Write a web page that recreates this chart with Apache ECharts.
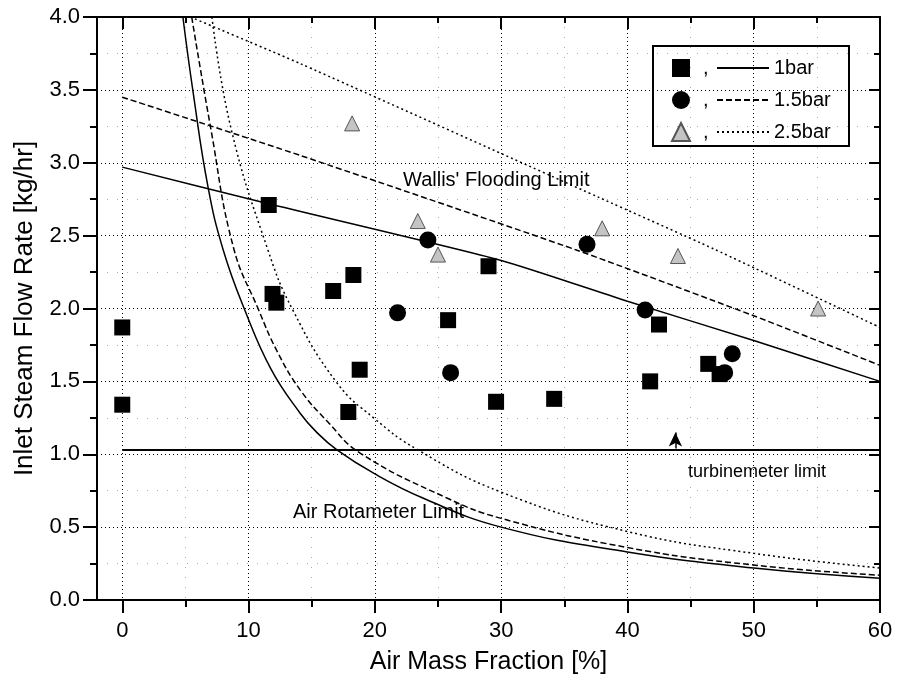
<!DOCTYPE html>
<html><head><meta charset="utf-8">
<script src="https://cdn.jsdelivr.net/npm/echarts@6/dist/echarts.min.js"></script>
<style>html,body{margin:0;padding:0;background:#fff}#c{width:898px;height:681px}</style>
</head><body><div id="c"></div>
<script>
// ---- data ----
const xTickValues = [0, 10, 20, 30, 40, 50, 60];
const pressureNames = ['1bar', '1.5bar', '2.5bar'];

const squares1bar = [[0, 1.87], [0, 1.34], [11.6, 2.71], [11.9, 2.10], [12.2, 2.04], [16.7, 2.12], [18.3, 2.23],
  [18.8, 1.58], [17.9, 1.29], [25.8, 1.92], [29.0, 2.29], [29.6, 1.36], [34.2, 1.38], [41.8, 1.50],
  [42.5, 1.89], [46.4, 1.62], [47.3, 1.55]];
const circles15bar = [[21.8, 1.97], [24.2, 2.47], [26.0, 1.56], [36.8, 2.44], [41.4, 1.99], [47.7, 1.56], [48.3, 1.69]];
const triangles25bar = [[18.2, 3.27], [23.4, 2.60], [25.0, 2.37], [38.0, 2.55], [44.0, 2.36], [55.1, 2.00]];

const flooding1bar = [[0, 2.97], [11.5, 2.72], [30, 2.33], [40, 2.05], [50, 1.78], [60, 1.50]];
const flooding15bar = [[0, 3.45], [14.1, 3.05], [36, 2.40], [50, 1.95], [60, 1.61]];
const flooding25bar = [[5.4, 4.0], [14.1, 3.68], [37.8, 2.76], [46.8, 2.41], [60, 1.87]];

const rotameter1bar = [[4.8, 4.0], [5.6, 3.49], [6.8, 2.83], [8.0, 2.40], [9.7, 1.99], [11.8, 1.58], [14.1, 1.28],
  [15.4, 1.15], [17.0, 1.03], [19.9, 0.87], [23.8, 0.70], [30, 0.50], [40, 0.33], [50, 0.22], [60, 0.15]];
const rotameter15bar = [[5.5, 4.0], [7.0, 3.24], [8.8, 2.42], [10.8, 1.99], [12.3, 1.70], [14.1, 1.44], [16.3, 1.22],
  [18.8, 1.01], [25.7, 0.70], [30, 0.56], [40, 0.36], [50, 0.24], [60, 0.17]];
const rotameter25bar = [[7.1, 4.0], [8.6, 3.24], [11.5, 2.41], [13.5, 1.99], [17.0, 1.49], [19.9, 1.25], [23.4, 1.03],
  [30, 0.74], [40, 0.47], [50, 0.32], [60, 0.22]];

const turbinemeterLimit = [[0, 1.03], [60, 1.03]];
const arrowFrom = [43.8, 1.04];
const arrowTo = [43.8, 1.15];

const annotations = [
  { text: "Wallis' Flooding Limit", x: 403, y: 180, size: 20 },
  { text: 'turbinemeter limit', x: 688, y: 472, size: 18 },
  { text: 'Air Rotameter Limit', x: 293, y: 512, size: 20 }
];

// ---- chart ----
const FONT = '"Liberation Sans", Arial, Helvetica, sans-serif';
const chart = echarts.init(document.getElementById('c'), null, { renderer: 'canvas' });

const lineTypes = ['solid', [6, 3], [2, 3]];
function lineSeries(name, data, i, smooth) {
  return {
    type: 'line', name: name, data: data, symbol: 'circle', showSymbol: false, smooth: smooth,
    lineStyle: { color: '#000', width: 1.5, type: lineTypes[i] }, itemStyle: { color: '#000' },
    z: 3, silent: true, clip: true
  };
}

const axisCommonX = { type: 'value', min: -2, max: 60, splitNumber: 6 };
const axisCommonY = { type: 'value', min: 0, max: 4, interval: 0.5 };

const option = {
  backgroundColor: '#fff',
  animation: false,
  grid: { left: 97, right: 18, top: 17, bottom: 81, containLabel: false, outerBoundsMode: 'none' },
  xAxis: [
    Object.assign({}, axisCommonX, {
      position: 'bottom',
      name: 'Air Mass Fraction [%]', nameLocation: 'middle', nameGap: 50,
      nameTextStyle: { fontFamily: FONT, fontSize: 25, color: '#000' },
      axisLine: { onZero: false, lineStyle: { color: '#000', width: 2 } },
      axisTick: { inside: false, length: 13, lineStyle: { color: '#000', width: 2 }, customValues: xTickValues },
      minorTick: { show: true, splitNumber: 2, length: 7, lineStyle: { color: '#000', width: 2 } },
      axisLabel: { customValues: xTickValues, margin: 20, fontFamily: FONT, fontSize: 22, color: '#000' },
      splitLine: { show: true, lineStyle: { color: '#000', width: 1, type: [1, 3] } },
      minorSplitLine: { show: true, lineStyle: { color: '#aaa', width: 1, type: [1, 9] } }
    }),
    Object.assign({}, axisCommonX, {
      position: 'top',
      axisLine: { onZero: false, lineStyle: { color: '#000', width: 2 } },
      axisTick: { inside: true, length: 12, lineStyle: { color: '#000', width: 2 }, customValues: xTickValues },
      minorTick: { show: true, splitNumber: 2, length: 6, lineStyle: { color: '#000', width: 2 } },
      axisLabel: { show: false },
      splitLine: { show: false }
    })
  ],
  yAxis: [
    Object.assign({}, axisCommonY, {
      position: 'left',
      name: 'Inlet Steam Flow Rate [kg/hr]', nameLocation: 'middle', nameGap: 59, nameRotate: 90,
      nameTextStyle: { fontFamily: FONT, fontSize: 26, color: '#000' },
      axisLine: { onZero: false, lineStyle: { color: '#000', width: 2 } },
      axisTick: { inside: false, length: 14, lineStyle: { color: '#000', width: 2 } },
      minorTick: { show: true, splitNumber: 2, length: 7, lineStyle: { color: '#000', width: 2 } },
      axisLabel: { margin: 17, fontFamily: FONT, fontSize: 22, color: '#000', formatter: v => v.toFixed(1) },
      splitLine: { show: true, lineStyle: { color: '#000', width: 1, type: [1, 3] } },
      minorSplitLine: { show: true, lineStyle: { color: '#aaa', width: 1, type: [1, 9] } }
    }),
    Object.assign({}, axisCommonY, {
      position: 'right',
      axisLine: { onZero: false, lineStyle: { color: '#000', width: 2 } },
      axisTick: { inside: true, length: 11, lineStyle: { color: '#000', width: 2 } },
      minorTick: { show: true, splitNumber: 2, length: 6, lineStyle: { color: '#000', width: 2 } },
      axisLabel: { show: false },
      splitLine: { show: false }
    })
  ],
  legend: [
    {
      data: ['pts1bar', 'pts15bar', 'pts25bar'],
      orient: 'vertical', left: 671, top: 58, padding: 0,
      itemWidth: 18, itemHeight: 18, itemGap: 12,
      formatter: () => ',',
      textStyle: { fontFamily: FONT, fontSize: 20, color: '#000', lineHeight: 18, padding: [0, 0, 0, 8] },
      selectedMode: false
    },
    {
      data: pressureNames,
      orient: 'vertical', left: 716, top: 58, padding: 0,
      itemWidth: 52, itemHeight: 18, itemGap: 12,
      itemStyle: { opacity: 0 },
      textStyle: { fontFamily: FONT, fontSize: 20, color: '#000', lineHeight: 18 },
      selectedMode: false
    }
  ],
  graphic: [
    { type: 'rect', left: 652, top: 45, shape: { width: 196, height: 100 },
      style: { fill: 'rgba(255,255,255,0)', stroke: '#000', lineWidth: 2 }, z: 100, silent: true }
  ].concat(annotations.map(a => ({
    type: 'text', x: a.x, y: a.y, z: 100, silent: true,
    style: { text: a.text, fontFamily: FONT, fontSize: a.size, fill: '#000', verticalAlign: 'middle', align: 'left' }
  }))),
  series: [
    lineSeries('1bar', flooding1bar, 0, 0.2),
    lineSeries('1.5bar', flooding15bar, 1, 0.2),
    lineSeries('2.5bar', flooding25bar, 2, 0.2),
    lineSeries('1bar', rotameter1bar, 0, 0.45),
    lineSeries('1.5bar', rotameter15bar, 1, 0.45),
    lineSeries('2.5bar', rotameter25bar, 2, 0.45),
    {
      type: 'line', name: 'turbinemeter', data: turbinemeterLimit, symbol: 'none', silent: true,
      lineStyle: { color: '#000', width: 2 }, z: 3,
      markLine: {
        silent: true, symbol: ['none', 'arrow'], symbolSize: [10, 14], label: { show: false },
        lineStyle: { color: '#000', width: 1.5, type: 'solid' },
        data: [[{ coord: arrowFrom }, { coord: arrowTo }]]
      }
    },
    {
      type: 'scatter', name: 'pts1bar', data: squares1bar, symbol: 'rect', symbolSize: 16,
      itemStyle: { color: '#000', opacity: 1 }, z: 5
    },
    {
      type: 'scatter', name: 'pts15bar', data: circles15bar, symbol: 'circle', symbolSize: 17,
      itemStyle: { color: '#000', opacity: 1 }, z: 5
    },
    {
      type: 'scatter', name: 'pts25bar', data: triangles25bar, symbol: 'triangle', symbolSize: 15,
      itemStyle: { color: '#c4c4c4', borderColor: '#555', borderWidth: 1, opacity: 1 }, z: 5
    }
  ]
};
chart.setOption(option);
</script>
</body></html>
